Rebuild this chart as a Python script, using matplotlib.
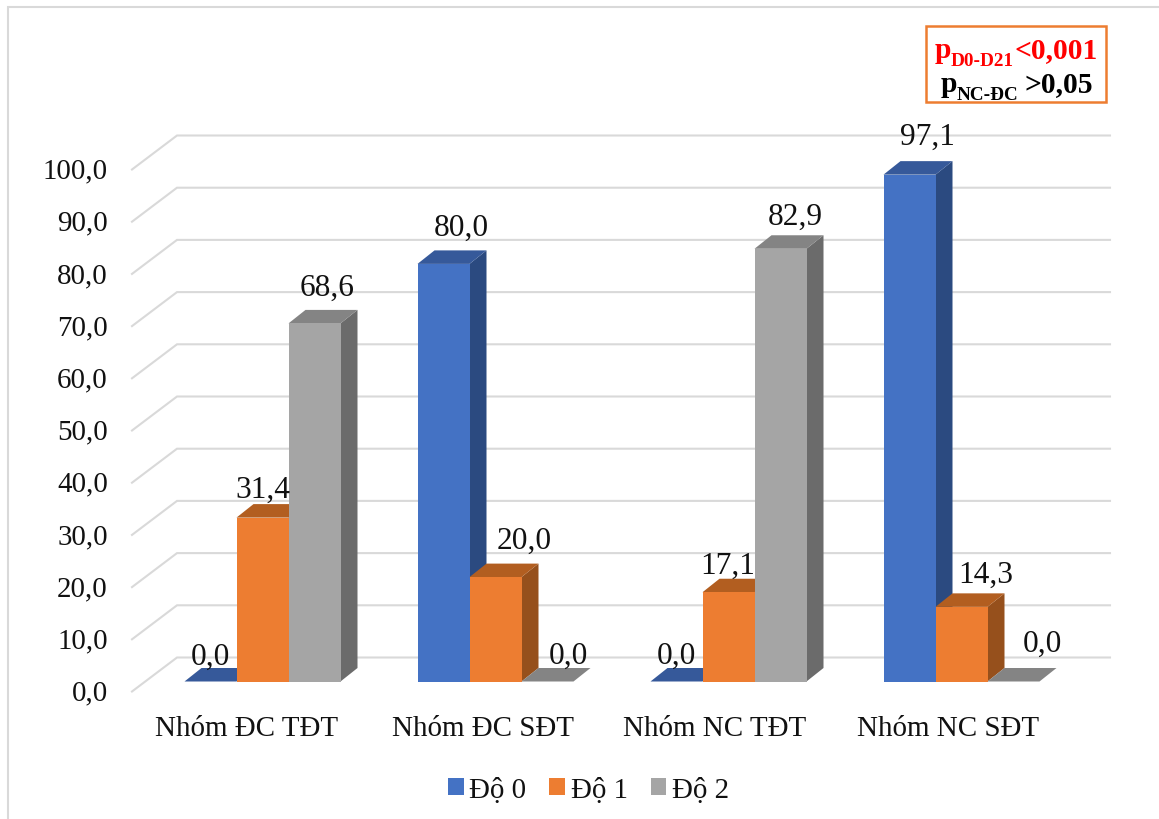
import matplotlib
matplotlib.use("Agg")
import matplotlib.pyplot as plt
from matplotlib.lines import Line2D
from matplotlib.patches import Patch, Rectangle
from matplotlib.transforms import ScaledTranslation

plt.rcParams['font.family'] = ['Liberation Serif', 'DejaVu Serif']

# ---- data ----
categories = ["Nhóm ĐC TĐT", "Nhóm ĐC SĐT", "Nhóm NC TĐT", "Nhóm NC SĐT"]
series_names = ["Độ 0", "Độ 1", "Độ 2"]
do_0 = [0.0, 80.0, 0.0, 97.1]
do_1 = [31.4, 20.0, 17.1, 14.3]
do_2 = [68.6, 0.0, 82.9, 0.0]
y_ticks = [0, 10, 20, 30, 40, 50, 60, 70, 80, 90, 100]

# ---- style ----
W, H = 1159, 820
DPI = 100
front = ["#4472C4", "#ED7D31", "#A5A5A5"]
top = ["#36599A", "#B25E20", "#848484"]
side = ["#2B4A80", "#96501C", "#6B6B6B"]
GRID = "#D9D9D9"
FS = 20.9
FS_LABEL = 22.6
# label offsets from the top-centre of each bar's front face, in pixels
label_px = [
    [(0, 25.5), (0, 28.5), (13, 36.5)],
    [(18, 36.5), (29, 36.5), (21, 26.5)],
    [(0, 26.5), (-1, 26.5), (15, 32.5)],
    [(18, 38.5), (24, 32.5), (29, 38.5)],
]
xlabel_shift_px = [-16, -13, -14, -13]

fig = plt.figure(figsize=(W / DPI, H / DPI), dpi=DPI, facecolor="white")
L, R, B, T = 146, 1078, 682.5, 160.5
ax = fig.add_axes([L / W, 1 - B / H, (R - L) / W, (B - T) / H])
ax.set_xlim(-0.5, 3.5)
ax.set_ylim(0, 100)
ax.patch.set_visible(False)
for s in ax.spines.values():
    s.set_visible(False)

px_x = (R - L) / 4          # pixels per category
px_y = (B - T) / 100        # pixels per value unit
bar_w = 52 / px_x
depth_x, depth_y = 17 / px_x, 13.5 / px_y


def cat_x(px):
    return (px - L) / px_x - 0.5


# walls: front-left -> back-left -> back-right
x_fl, x_bl, x_br = cat_x(132), cat_x(177), cat_x(1110)
y_front, y_back = -10 / px_y, 24 / px_y
for v in y_ticks:
    ax.plot([x_fl, x_bl, x_br], [v + y_front, v + y_back, v + y_back],
            color=GRID, lw=1.5, clip_on=False, zorder=1,
            solid_joinstyle="miter")

# bars
series = [do_0, do_1, do_2]
z = 2
for c in range(len(categories)):
    for s, vals in enumerate(series):
        v = vals[c]
        x0 = c + (s - 1.5) * bar_w
        x1 = x0 + bar_w
        ax.fill([x1, x1 + depth_x, x1 + depth_x, x1],
                [0, depth_y, v + depth_y, v],
                color=side[s], lw=0, clip_on=False, zorder=z)
        ax.fill([x0, x1, x1 + depth_x, x0 + depth_x],
                [v, v, v + depth_y, v + depth_y],
                color=top[s], lw=0, clip_on=False, zorder=z)
        ax.bar(x0 + bar_w / 2, v, width=bar_w, color=front[s], lw=0, zorder=z)
        z += 0.01
        dx, dy = label_px[c][s]
        ax.annotate(f"{v:.1f}".replace(".", ","),
                    xy=(x0 + bar_w / 2, v),
                    xytext=(dx * 72 / DPI, dy * 72 / DPI),
                    textcoords="offset points", ha="center", va="center",
                    fontsize=FS_LABEL, color="#111111", zorder=10, annotation_clip=False)

# axes tick labels
ax.set_yticks(y_ticks)
ax.set_yticklabels([f"{v:.1f}".replace(".", ",") for v in y_ticks], fontsize=FS, color="#111111")
ax.set_xticks(range(len(categories)))
ax.set_xticklabels(categories, fontsize=FS, color="#111111")
ax.tick_params(axis="y", length=0, pad=38 * 0.72)
ax.tick_params(axis="x", length=0, pad=33.5 * 0.72)
ty = ScaledTranslation(0, -8 / DPI, fig.dpi_scale_trans)
for lab in ax.get_yticklabels():
    lab.set_transform(lab.get_transform() + ty)
for lab, sh in zip(ax.get_xticklabels(), xlabel_shift_px):
    lab.set_transform(lab.get_transform() + ScaledTranslation(sh / DPI, 0, fig.dpi_scale_trans))

# legend
handles = [Patch(facecolor=front[i], edgecolor="none", label=series_names[i]) for i in range(3)]
fig.legend(handles=handles, loc="center", bbox_to_anchor=(588.5 / W, 1 - 791 / H),
           ncol=3, frameon=False, fontsize=FS, borderpad=0, borderaxespad=0,
           handlelength=0.53, handleheight=0.53, handletextpad=0.2, columnspacing=0.79,
           labelcolor="#111111")

# outer chart border (left and top only reach the image)
fig.add_artist(Line2D([8 / W, 8 / W, 1], [0, 1 - 8 / H, 1 - 8 / H], color=GRID, lw=1.5,
                      transform=fig.transFigure, solid_joinstyle="miter"))

# annotation box
fig.add_artist(Rectangle((926 / W, 1 - 103 / H), 180 / W, 76 / H, transform=fig.transFigure,
                         facecolor="white", edgecolor="#ED7D31", lw=1.8))


def ftext(x, y, s, size, color):
    fig.text(x / W, 1 - y / H, s, fontsize=size, color=color, fontweight="bold",
             ha="left", va="baseline")


BIG, SUB = 21.3, 13.8
ftext(935, 58.5, "p", BIG, "#FF0000")
ftext(951, 66, "D0-D21", SUB, "#FF0000")
ftext(1015, 58.5, "<0,001", BIG, "#FF0000")
ftext(941, 92.5, "p", BIG, "#000000")
ftext(957, 100, "NC-ĐC", SUB, "#000000")
ftext(1025, 92.5, ">0,05", BIG, "#000000")

fig.savefig("out.png", dpi=DPI)
